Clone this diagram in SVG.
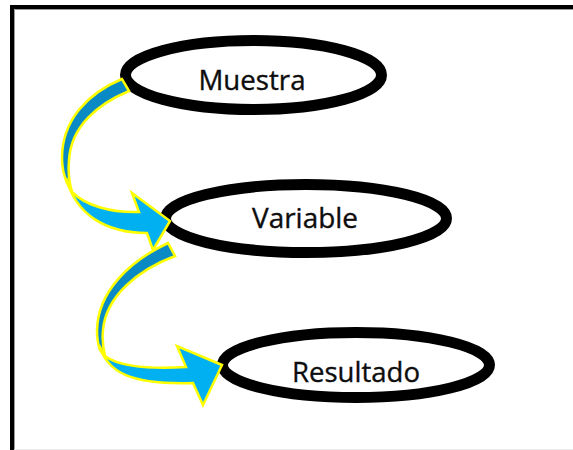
<svg xmlns="http://www.w3.org/2000/svg" width="573" height="450" viewBox="0 0 573 450">
  <defs>
    <style>
      .node ellipse { fill: #ffffff; stroke: #000000; stroke-width: 11; }
      .node text { font-family: "Open Sans", "Noto Sans", "Liberation Sans", sans-serif; font-size: 26.5px; fill: #0d0d0d; stroke: #0d0d0d; stroke-width: 0.35; text-anchor: middle; }
      .back { fill: #0a8ac4; stroke: #ffff00; stroke-width: 2.5; stroke-linejoin: miter; }
      .front { fill: #00b0f0; stroke: #ffff00; stroke-width: 2.5; stroke-linejoin: miter; }
    </style>
  </defs>

  <!-- page frame -->
  <rect x="0" y="0" width="573" height="450" fill="#ffffff"/>
  <path d="M12,452 L12,7 L580,7" fill="none" stroke="#000000" stroke-width="4"/>
  <path d="M14.5,452 L14.5,9.5 L580,9.5" fill="none" stroke="#9a9a9a" stroke-width="1"/>
  <line x1="14" y1="449.5" x2="573" y2="449.5" stroke="#ececec" stroke-width="1"/>

  <!-- nodes -->
  <g id="muestra" class="node">
    <ellipse cx="253.5" cy="75" rx="128" ry="34.5"/>
    <text x="252" y="90" textLength="107" lengthAdjust="spacingAndGlyphs">Muestra</text>
  </g>
  <g id="variable" class="node">
    <ellipse cx="306" cy="218.5" rx="140.5" ry="34"/>
    <text x="305" y="228" textLength="106" lengthAdjust="spacingAndGlyphs">Variable</text>
  </g>
  <g id="resultado" class="node">
    <ellipse cx="356" cy="365" rx="133.5" ry="32.5"/>
    <text x="356" y="382" textLength="128" lengthAdjust="spacingAndGlyphs">Resultado</text>
  </g>

  <!-- connectors: curved arrows -->
  <g id="connectors">
    <g id="muestra-to-variable">
      <path class="back" d="M122,79 C88,93 62,120 62,158 C62,168 64,176 67,183 L72,192 C69,182 68,170 69,160 C71,126 98,104 129,91 Z"/>
      <path class="front" d="M66,178 C76,215 106,233 147,233 L153,250 L170,221 L132,193 L139,212 C110,213 85,205 72,192 Z"/>
    </g>
    <g id="variable-to-resultado">
      <path class="back" d="M168,243 C128,262 98,292 97,330 C97,338 98,345 100,350 L105,356 C103,348 102,340 103,330 C106,296 138,270 175,256 Z"/>
      <path class="front" d="M99,345 C107,372 130,385 193,383 L203,405 L222,365 L177,346 L186,367 C140,370 115,364 105,356 Z"/>
    </g>
  </g>
</svg>
